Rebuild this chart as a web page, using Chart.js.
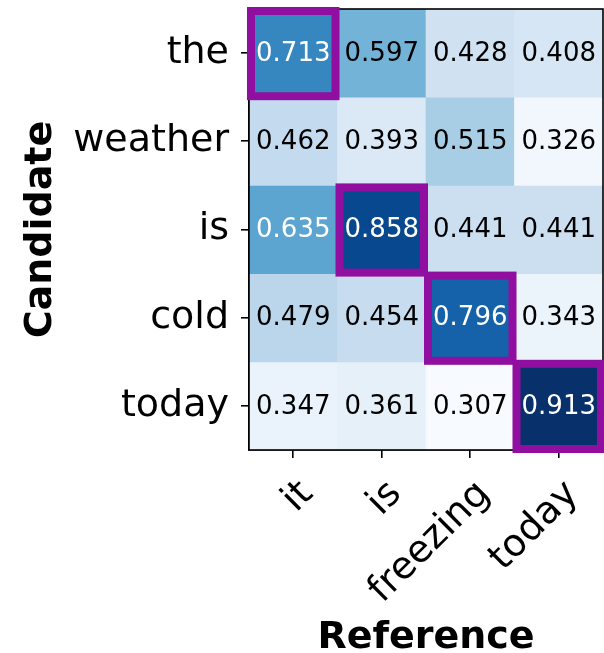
<!DOCTYPE html>
<html>
<head>
<meta charset="utf-8">
<script src="https://cdn.jsdelivr.net/npm/chart.js@4.4.1/dist/chart.umd.min.js"></script>
<style>
  html, body { margin: 0; padding: 0; background: #fff; }
  #wrap { width: 604px; height: 653px; }
</style>
</head>
<body>
<div id="wrap"><canvas id="heat" width="604" height="653"></canvas></div>
<script>
// reference tokens (columns) and candidate tokens (rows)
const referenceTokens = ['it', 'is', 'freezing', 'today'];
const candidateTokens = ['the', 'weather', 'is', 'cold', 'today'];

// similarity values, one array per candidate row
const rowThe = [0.713, 0.597, 0.428, 0.408];
const rowWeather = [0.462, 0.393, 0.515, 0.326];
const rowIs = [0.635, 0.858, 0.441, 0.441];
const rowCold = [0.479, 0.454, 0.796, 0.343];
const rowToday = [0.347, 0.361, 0.307, 0.913];
const scores = [rowThe, rowWeather, rowIs, rowCold, rowToday];

// greedy matches [row, col] that get the purple box
const matches = [[0, 0], [2, 1], [3, 2], [4, 3]];

const BLUES = ['#f7fbff', '#deebf7', '#c6dbef', '#9ecae1', '#6baed6', '#4292c6', '#2171b5', '#08519c', '#08306b'];
const allVals = scores.flat();
const vMin = Math.min(...allVals);
const vMax = Math.max(...allVals);

function hexToRgb(h) {
   return [parseInt(h.slice(1, 3), 16), parseInt(h.slice(3, 5), 16), parseInt(h.slice(5, 7), 16)];
}
function blues(v) {
   let t = (v - vMin) / (vMax - vMin);
   t = Math.max(0, Math.min(1, t)) * (BLUES.length - 1);
   const i = Math.min(Math.floor(t), BLUES.length - 2);
   const f = t - i;
   const a = hexToRgb(BLUES[i]), b = hexToRgb(BLUES[i + 1]);
   const c = a.map((x, k) => Math.round(x + (b[k] - x) * f));
   return `rgb(${c[0]},${c[1]},${c[2]})`;
}

const datasets = scores.map((row, r) => ({
   label: candidateTokens[r],
   data: row.map(() => [r - 0.5, r + 0.5]),
   backgroundColor: row.map(v => blues(v)),
   borderWidth: 0,
   barPercentage: 1,
   categoryPercentage: 1,
   grouped: false,
}));

const cellText = {
   id: 'cellText',
   afterDatasetsDraw(chart) {
      const { ctx, chartArea, scales: { x, y } } = chart;
      ctx.save();
      // frame (all four spines)
      ctx.strokeStyle = '#000';
      ctx.lineWidth = 1.6;
      ctx.strokeRect(chartArea.left, chartArea.top, chartArea.right - chartArea.left, chartArea.bottom - chartArea.top);

      ctx.font = '26px "DejaVu Sans"';
      ctx.textAlign = 'center';
      ctx.textBaseline = 'middle';
      const mid = (vMin + vMax) / 2;
      scores.forEach((row, r) => {
         row.forEach((v, c) => {
            ctx.fillStyle = v > mid ? '#fff' : '#000';
            ctx.fillText(v.toFixed(3), x.getPixelForValue(c), y.getPixelForValue(r) + 1);
         });
      });

      ctx.strokeStyle = '#910fa0';
      ctx.lineWidth = 8;
      matches.forEach(([r, c]) => {
         const x0 = x.getPixelForValue(c - 0.5) + 2;
         const x1 = x.getPixelForValue(c + 0.5) - 2;
         const y0 = y.getPixelForValue(r - 0.5) + 2;
         const y1 = y.getPixelForValue(r + 0.5) - 1;
         ctx.strokeRect(x0, y0, x1 - x0, y1 - y0);
      });
      ctx.restore();
   }
};

new Chart(document.getElementById('heat'), {
   type: 'bar',
   data: { labels: referenceTokens, datasets: datasets },
   options: {
      responsive: false,
      animation: false,
      devicePixelRatio: 1,
      layout: { padding: { top: 9, right: 1, left: 0, bottom: 0 } },
      plugins: { legend: { display: false }, tooltip: { enabled: false } },
      scales: {
         x: {
            type: 'category',
            offset: true,
            grid: { display: true, offset: false, drawOnChartArea: false, color: '#000', tickLength: 8, lineWidth: 1.6, tickColor: '#000' },
            border: { display: true, color: '#000', width: 1.6 },
            ticks: {
               color: '#000',
               font: { family: 'DejaVu Sans', size: 38 },
               minRotation: 45,
               maxRotation: 45,
               autoSkip: false,
               padding: 14,
               labelOffset: 14,
            },
            title: {
               display: true,
               text: 'Reference',
               color: '#000',
               font: { family: 'DejaVu Sans', size: 38, weight: 'bold', lineHeight: 1 },
               padding: { top: 0, bottom: -4 },
            },
            afterFit: scale => {
               scale.height = 203;
               scale.paddingLeft = 0;
               scale.paddingRight = 0;
            },
         },
         y: {
            type: 'linear',
            min: -0.5,
            max: 4.5,
            reverse: true,
            afterBuildTicks: scale => {
               scale.ticks = candidateTokens.map((_, i) => ({ value: i }));
            },
            grid: { display: true, drawOnChartArea: false, color: '#000', tickLength: 8, lineWidth: 1.6, tickColor: '#000' },
            border: { display: true, color: '#000', width: 1.6 },
            ticks: {
               color: '#000',
               font: { family: 'DejaVu Sans', size: 38 },
               padding: 12,
               callback: value => candidateTokens[value],
            },
            title: {
               display: true,
               text: 'Candidate',
               color: '#000',
               font: { family: 'DejaVu Sans', size: 38, weight: 'bold', lineHeight: 1 },
               padding: { top: 22, bottom: 0 },
            },
            afterFit: scale => {
               scale.width = 249;
               scale.paddingTop = 0;
               scale.paddingBottom = 0;
            },
         },
      },
   },
   plugins: [cellText],
});
</script>
</body>
</html>
